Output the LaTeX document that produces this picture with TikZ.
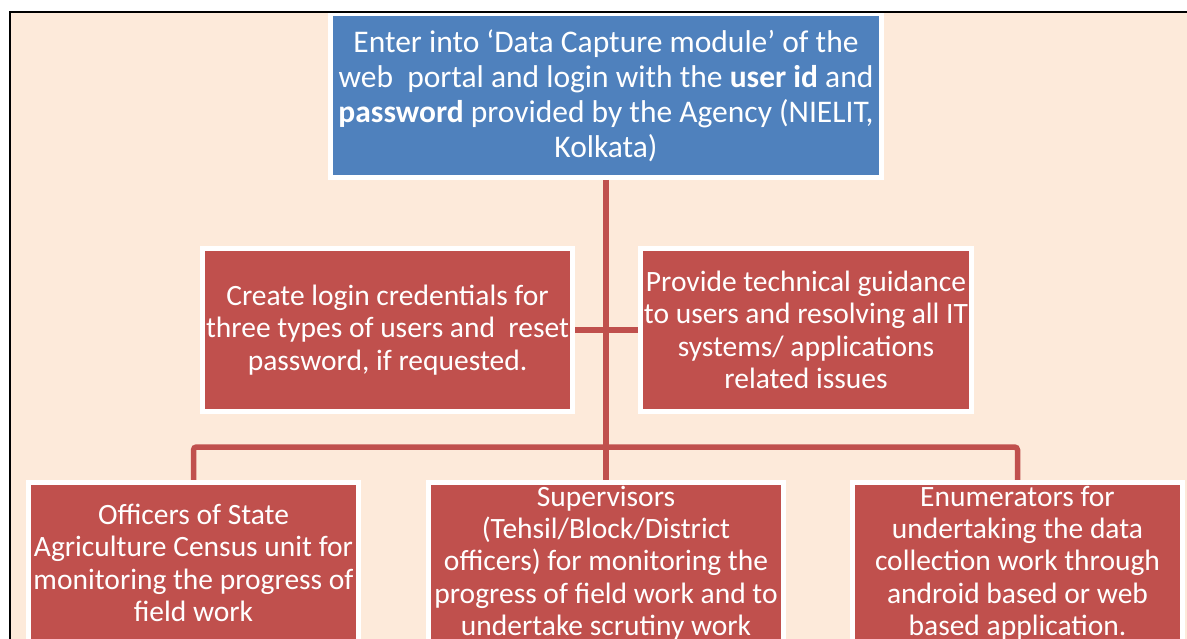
\documentclass[tikz,border=0pt]{standalone}
\usepackage{fontspec}
\setmainfont{Carlito}
\definecolor{bgpeach}{HTML}{FDEADA}
\definecolor{boxblue}{HTML}{4F81BD}
\definecolor{boxred}{HTML}{C0504D}
\begin{document}
\begin{tikzpicture}[x=1pt,y=-1pt,
  boxbase/.style={draw=white, line width=5pt, text=white, align=center, inner sep=0pt, rectangle},
  bluebox/.style={boxbase, fill=boxblue, font=\fontsize{31.5}{35}\selectfont},
  redbox/.style={boxbase, fill=boxred, font=\fontsize{29.5}{32.3}\selectfont},
  conn/.style={draw=boxred, line width=5.5pt}]
\useasboundingbox (0,0) rectangle (1187,639);
\fill[bgpeach] (10,12) rectangle (1187,639);
% nodes
\node[bluebox, minimum width=551pt, minimum height=164pt] (top) at (606,95.5)
  {Enter into ‘Data Capture module’ of the\\web\ \ portal and login with the \textbf{user id} and\\\textbf{password} provided by the Agency (NIELIT,\\Kolkata)};
\coordinate (j) at (606,447);
% connectors
\draw[conn] (top.south) -- (606,485);
\draw[conn, rounded corners=3pt] (193.5,485) -- (193.5,447) -- (1017.5,447) -- (1017.5,485);
\draw[conn] (386,330) -- (806,330);
\node[redbox, minimum width=370pt, minimum height=163pt] (ml) at (387.5,330)
  {Create login credentials for\\three types of users and\ \ reset\\password, if requested.};
\node[redbox, minimum width=331pt, minimum height=163pt] (mr) at (806,330)
  {Provide technical guidance\\to users and resolving all IT\\systems/ applications\\related issues};
\node[redbox, minimum width=330pt, minimum height=161pt] (bl) at (193.5,563)
  {Officers of State\\Agriculture Census unit for\\monitoring the progress of\\field work};
\node[redbox, minimum width=355pt, minimum height=161pt] (bm) at (606,563)
  {Supervisors\\(Tehsil/Block/District\\officers) for monitoring the\\progress of field work and to\\undertake scrutiny work};
\node[redbox, minimum width=330pt, minimum height=161pt] (br) at (1017.5,563)
  {Enumerators for\\undertaking the data\\collection work through\\android based or web\\based application.};
\draw[line width=1.6pt] (10,639) -- (10,12) -- (1187,12);
\end{tikzpicture}
\end{document}
